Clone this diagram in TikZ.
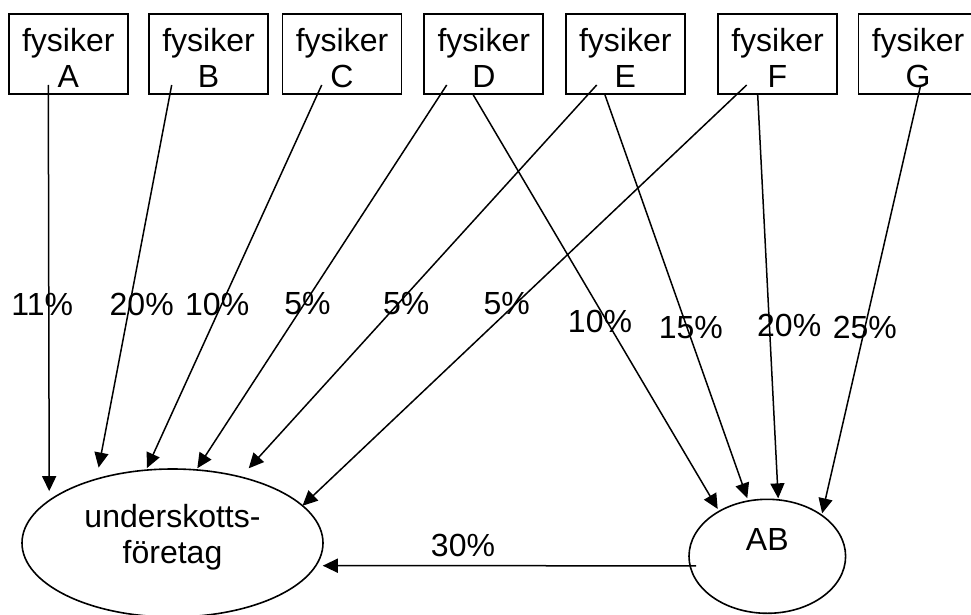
\documentclass[tikz,border=0pt]{standalone}
\usepackage{fontspec}
\setmainfont{Liberation Sans}
\usetikzlibrary{shapes.geometric,arrows.meta}
\begin{document}
\begin{tikzpicture}[x=1pt,y=-1pt,
  box/.style={draw, line width=1.8pt, minimum width=119pt, minimum height=80pt, inner sep=0pt, outer sep=0pt},
  oval/.style={draw, ellipse, line width=1.6pt, inner sep=0pt, outer sep=0pt},
  lbl/.style={font=\fontsize{32}{36}\selectfont, align=center, inner sep=0pt},
  arr/.style={line width=1.5pt, -{Triangle[length=15pt,width=14pt]}}]
\useasboundingbox (0,0) rectangle (971,615);
\fill[white] (0,0) rectangle (971,615);

% physicist boxes
\node[box] (A) at (68.3,54) {};
\node[box] (B) at (208.5,54) {};
\node[box] (C) at (342,54) {};
\node[box] (D) at (483.8,54) {};
\node[box] (E) at (625.3,54) {};
\node[box] (F) at (777.5,54) {};
\node[box] (G) at (918,54) {};
\node[lbl] (tA) at (68.3,58.3) {fysiker\\A};
\node[lbl] (tB) at (208.5,58.3) {fysiker\\B};
\node[lbl] (tC) at (342,58.3) {fysiker\\C};
\node[lbl] (tD) at (483.8,58.3) {fysiker\\D};
\node[lbl] (tE) at (625.3,58.3) {fysiker\\E};
\node[lbl] (tF) at (777.5,58.3) {fysiker\\F};
\node[lbl] (tG) at (918,58.3) {fysiker\\G};

% targets
\node[oval, minimum width=301pt, minimum height=148pt] (U) at (172.5,543) {};
\node[lbl] (tU) at (172.5,537) {underskotts-\\företag};
\node[oval, minimum width=156.6pt, minimum height=114pt] (AB) at (767.3,556.3) {};
\node[lbl] (tAB) at (767.3,539.5) {AB};

% start points inside the boxes
\coordinate (sA) at (48.3,85);
\coordinate (sB) at (171.7,85);
\coordinate (sC) at (321.7,85);
\coordinate (sD1) at (446.7,85);
\coordinate (sD2) at (473.3,95);
\coordinate (sE1) at (596.7,85);
\coordinate (sE2) at (605,95);
\coordinate (sF1) at (746.7,85);
\coordinate (sF2) at (757.7,95);
\coordinate (sG) at (920.7,85);

% arrows to underskottsforetag
\draw[arr, shorten >=9.4pt] (sA) -- (U.161.5);
\draw[arr, shorten >=11.8pt] (sB) -- (U.140.8);
\draw[arr, shorten >=2.3pt] (sC) -- (U.110.0);
\draw[arr, shorten >=2pt] (sD1) -- (U.72.0);
\draw[arr, shorten >=11.8pt] (sE1) -- (U.44.2);
\draw[arr] (sF1) -- (U.16.8);

% arrows to AB
\draw[arr, shorten >=2.8pt] (sD2) -- (AB.137.5);
\draw[arr, shorten >=3pt] (sE2) -- (AB.109.5);
\draw[arr, shorten >=1.5pt] (sF2) -- (AB.79.5);
\draw[arr, shorten >=2pt] (sG) -- (AB.37.3);

% AB to underskottsforetag
\draw[arr, shorten <=-6pt, shorten >=7pt] (AB.187.2) -- (U.-9.1);

% percentages
\node[lbl] (p1) at (42.2,304) {11\%};
\node[lbl] (p2) at (141.7,304) {20\%};
\node[lbl] (p3) at (217.2,304) {10\%};
\node[lbl] (p4) at (307.5,304) {5\%};
\node[lbl] (p5) at (406.3,304) {5\%};
\node[lbl] (p6) at (506.7,304) {5\%};
\node[lbl] (p7) at (600,321.7) {10\%};
\node[lbl] (p8) at (690.8,327.3) {15\%};
\node[lbl] (p9) at (789.2,325.3) {20\%};
\node[lbl] (p10) at (864.8,327.5) {25\%};
\node[lbl] (p11) at (463,545) {30\%};
\end{tikzpicture}
\end{document}
